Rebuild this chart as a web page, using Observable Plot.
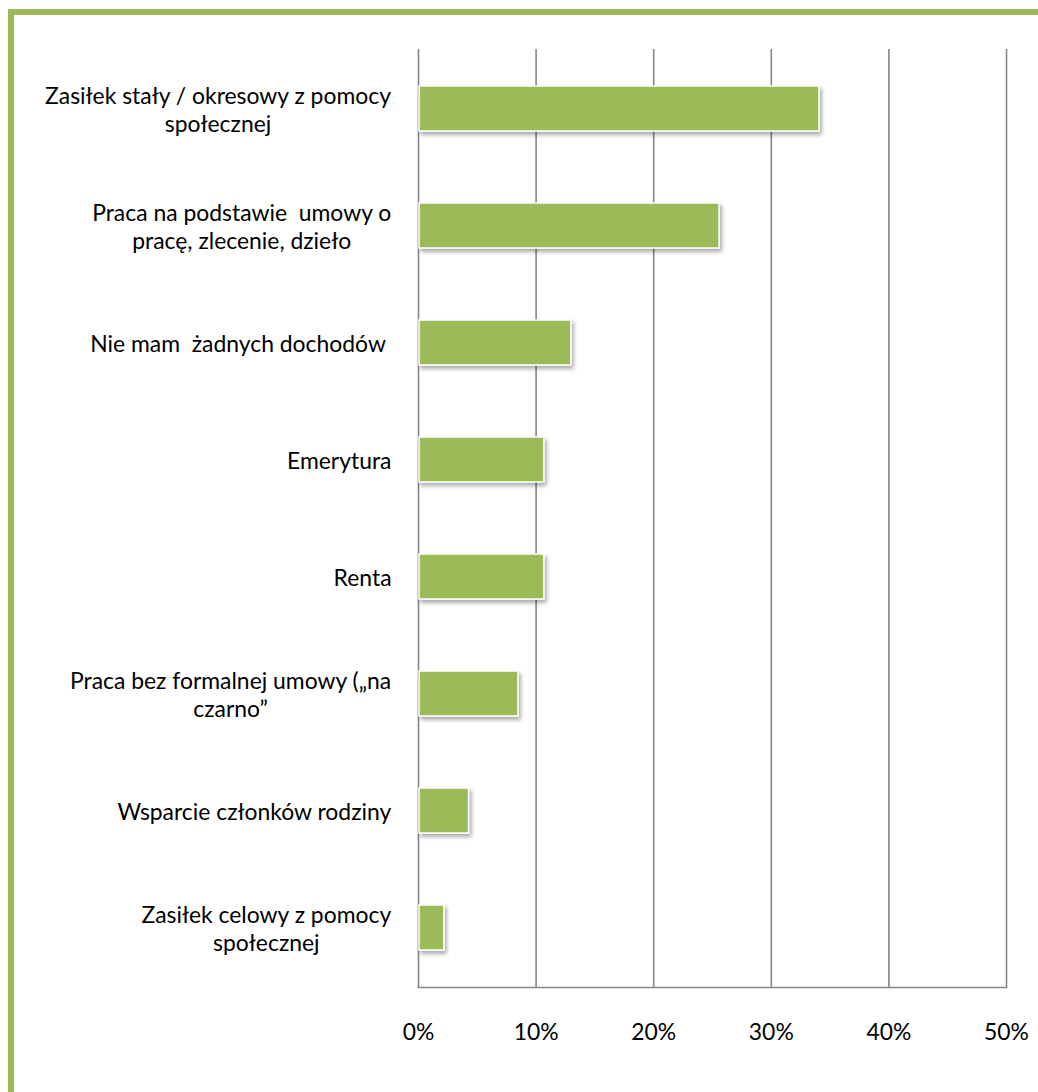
<!DOCTYPE html>
<html>
<head>
<meta charset="utf-8">
<script src="https://cdn.jsdelivr.net/npm/d3@7"></script>
<script src="https://cdn.jsdelivr.net/npm/@observablehq/plot@0.6"></script>
<style>
  html, body { margin: 0; padding: 0; background: #fff; }
  #wrap { position: relative; width: 1038px; height: 1092px; overflow: hidden; }
  #border { position: absolute; left: 8px; top: 9px; right: -10px; bottom: -10px;
            border-top: 6px solid #9BBB59; border-left: 6px solid #9BBB59; }
  #chart { position: absolute; left: 0; top: 0; }
</style>
</head>
<body>
<div id="wrap"><div id="border"></div><div id="chart"></div></div>
<script>
const categories = [
  "Zasiłek stały / okresowy z pomocy społecznej",
  "Praca na podstawie  umowy o pracę, zlecenie, dzieło",
  "Nie mam  żadnych dochodów",
  "Emerytura",
  "Renta",
  "Praca bez formalnej umowy („na czarno”",
  "Wsparcie członków rodziny",
  "Zasiłek celowy z pomocy społecznej"
];
const labelLines = [
  ["Zasiłek stały / okresowy z pomocy", "społecznej"],
  ["Praca na podstawie  umowy o", "pracę, zlecenie, dzieło"],
  ["Nie mam  żadnych dochodów "],
  ["Emerytura"],
  ["Renta"],
  ["Praca bez formalnej umowy („na", "czarno”"],
  ["Wsparcie członków rodziny"],
  ["Zasiłek celowy z pomocy", "społecznej"]
];
const values = [0.341, 0.256, 0.130, 0.107, 0.107, 0.085, 0.043, 0.022];
const xTicks = [0, 0.1, 0.2, 0.3, 0.4, 0.5];

const data = categories.map((c, i) => ({category: c, value: values[i], lines: labelLines[i]}));

const FONT = "Lato, 'Open Sans', sans-serif";
const ctx = document.createElement("canvas").getContext("2d");
function measure(t, size) { ctx.font = `${size}px Lato`; return ctx.measureText(t).width; }
// size text so that the longest label line matches the reference width
const fontSize = Math.round(20 * 347 / measure("Zasiłek stały / okresowy z pomocy", 20) * 10) / 10;

const gap = 27;
const labelMarks = data.map(d => {
  const w = Math.max(...d.lines.map(l => measure(l, fontSize)));
  return Plot.text([d], {
    y: "category",
    text: r => r.lines.join("\n"),
    frameAnchor: "left",
    textAnchor: "middle",
    dx: -gap - w / 2,
    lineHeight: 28 / fontSize,
    fontSize,
    fill: "#000"
  });
});

const plot = Plot.plot({
  width: 1038,
  height: 1092,
  marginLeft: 418,
  marginRight: 32,
  marginTop: 49,
  marginBottom: 105,
  style: {fontFamily: FONT, fontSize: fontSize + "px", color: "#000", background: "transparent"},
  x: {domain: [0, 0.5], axis: null},
  y: {domain: categories, paddingInner: 0.617, paddingOuter: 0.3085, axis: null},
  marks: [
    Plot.ruleX(xTicks, {stroke: "#868686", strokeWidth: 1.6, strokeOpacity: 1}),
    Plot.frame({anchor: "bottom", stroke: "#868686", strokeWidth: 1.6}),
    Plot.barX(data, {x: "value", y: "category", fill: "#9BBB59", stroke: "#fff", strokeWidth: 1.5, insetLeft: 1}),
    Plot.axisX(xTicks, {tickSize: 0, tickPadding: 36, tickFormat: d3.format(".0%"), fontSize, fill: "#000", label: null}),
    ...labelMarks
  ]
});

// drop shadow on bars
const svg = d3.select(plot);
const defs = svg.insert("defs", ":first-child");
const f = defs.append("filter").attr("id", "shadow").attr("x", "-10%").attr("y", "-20%").attr("width", "130%").attr("height", "160%");
f.append("feDropShadow").attr("dx", 2).attr("dy", 3).attr("stdDeviation", 2).attr("flood-color", "#000").attr("flood-opacity", 0.35);
svg.selectAll("g[aria-label='bar'] rect").attr("filter", "url(#shadow)");

document.getElementById("chart").appendChild(plot);
</script>
</body>
</html>
